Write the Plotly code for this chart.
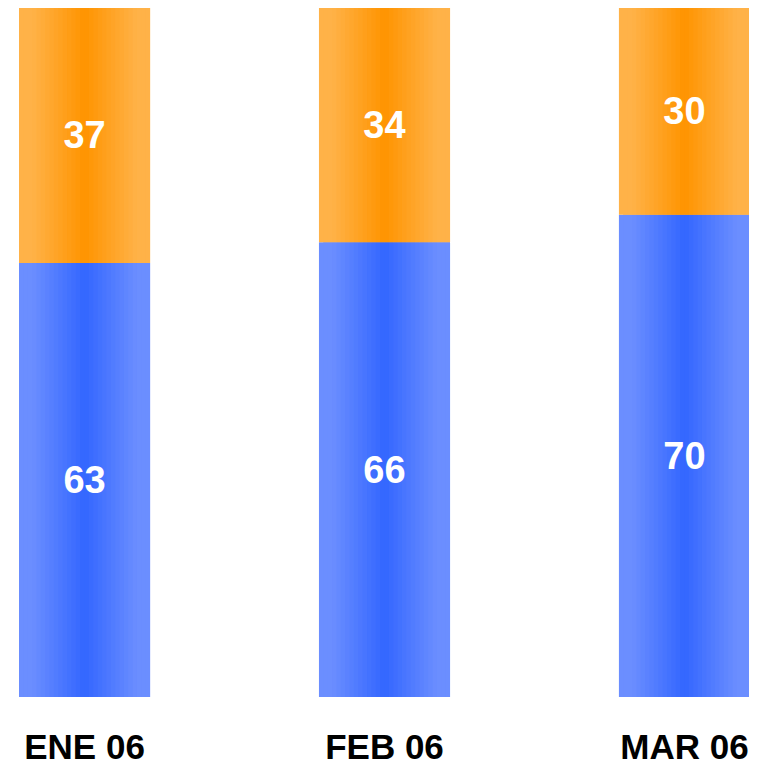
import plotly.graph_objects as go

# data
months = ["ENE 06", "FEB 06", "MAR 06"]
blue_vals = [63, 66, 70]
orange_vals = [37, 34, 30]

BAR_W = 0.437      # bar width in category units
N_STRIPS = 30      # strips used to fake the horizontal gradient

BLUE_DARK, BLUE_LIGHT = (0x33, 0x66, 0xFF), (0x6B, 0x8E, 0xFF)
ORANGE_DARK, ORANGE_LIGHT = (0xFF, 0x94, 0x00), (0xFF, 0xB2, 0x48)


def mix(dark, light, t):
    return "rgb(%d,%d,%d)" % tuple(round(d + (l - d) * t) for d, l in zip(dark, light))


fig = go.Figure()

step = BAR_W / N_STRIPS
for k in range(N_STRIPS):
    centre = (k + 0.5) / N_STRIPS - 0.5          # -0.5 .. 0.5 across the bar
    t = min(1.0, abs(centre) * 2 * 1.25)
    # each strip overlaps the next one to hide antialiasing seams
    w = min(2, N_STRIPS - k) * step
    for vals, base, dark, light in [
        (blue_vals, None, BLUE_DARK, BLUE_LIGHT),
        (orange_vals, blue_vals, ORANGE_DARK, ORANGE_LIGHT),
    ]:
        fig.add_trace(go.Bar(
            x=months, y=vals, base=base,
            width=w, offset=-BAR_W / 2 + k * step,
            marker=dict(color=mix(dark, light, t), line=dict(width=0)),
            hoverinfo="skip", showlegend=False,
        ))

# transparent full-width bars carrying the value labels
for vals, base in [(blue_vals, None), (orange_vals, blue_vals)]:
    fig.add_trace(go.Bar(
        x=months, y=vals, base=base, width=BAR_W,
        marker=dict(color="rgba(0,0,0,0)", line=dict(width=0)),
        text=[str(v) for v in vals], textposition="inside",
        insidetextanchor="middle", constraintext="none",
        textfont=dict(family="Liberation Sans, Arial", size=38, color="white", weight="bold"),
        hoverinfo="skip", showlegend=False,
    ))

fig.update_layout(
    barmode="overlay",
    width=749, height=760,
    margin=dict(l=11, r=7, t=0, b=71),
    paper_bgcolor="white", plot_bgcolor="white",
    xaxis=dict(
        range=[-BAR_W / 2, 2 + BAR_W / 2],
        tickfont=dict(family="Liberation Sans, Arial", size=35, color="black", weight="bold"),
        ticklabelstandoff=26,
        showgrid=False, zeroline=False, showline=False, ticks="",
    ),
    yaxis=dict(range=[0, 100], visible=False),
)

fig.write_html("out.html")
